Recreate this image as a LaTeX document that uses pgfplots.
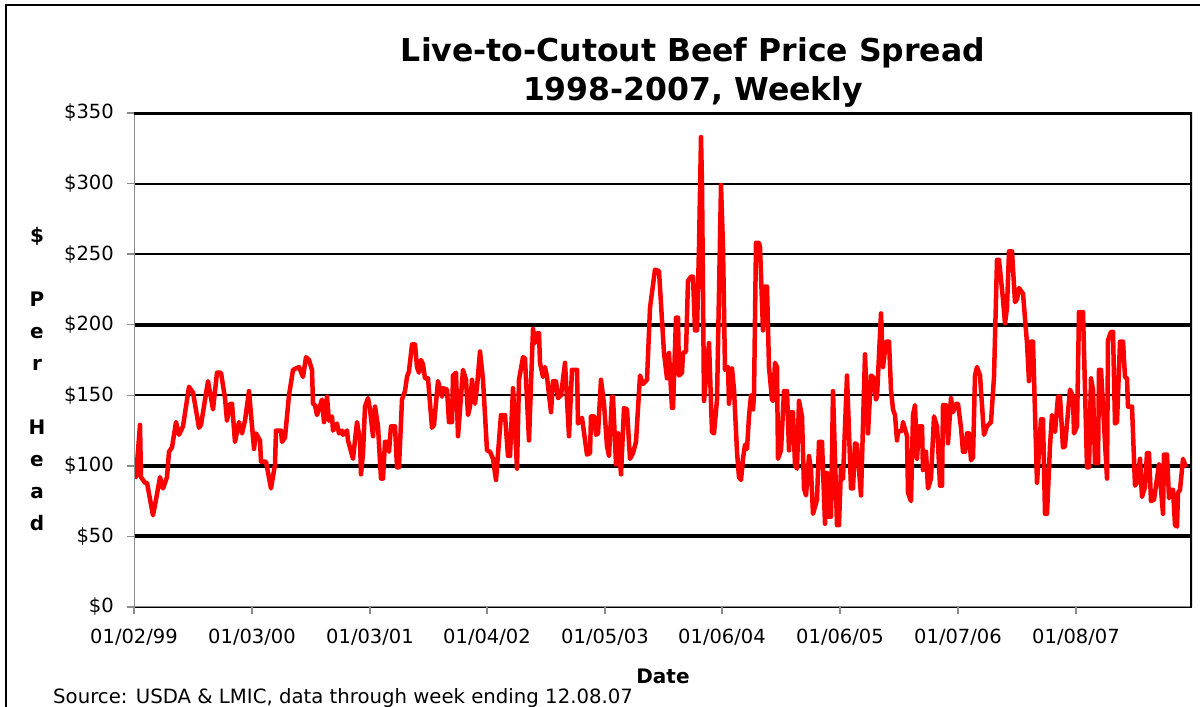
\documentclass[border=0pt]{standalone}
\usepackage{fontspec}
\setmainfont{DejaVu Sans}
\usepackage{pgfplots}
\usepackage{pgfplotstable}
\pgfplotsset{compat=1.18}
\pgfplotstableread{
x y
0 94
2 92
6 129
7 92
11 88
13 88
19 65
22 76
26 92
29 84
33 92
35 110
38 113
42 131
45 122
49 128
55 156
59 152
65 127
67 129
74 160
79 140
83 166
87 166
91 148
93 132
96 144
98 144
101 117
105 131
108 123
111 132
115 153
120 112
122 123
126 118
127 103
132 103
137 84
141 101
142 125
147 125
148 117
151 120
155 150
159 168
165 170
169 163
172 177
175 175
178 168
179 144
181 143
183 136
188 147
190 131
193 149
195 132
198 135
199 125
203 130
205 123
208 125
209 122
213 125
214 118
219 105
223 131
226 118
227 94
229 109
231 142
234 148
236 140
239 121
241 142
244 128
247 91
249 91
251 117
253 117
255 110
257 128
261 128
263 99
265 99
268 147
271 153
273 163
275 167
278 186
281 186
283 170
285 166
287 175
289 172
291 162
294 162
298 127
300 129
304 160
308 149
309 155
313 154
315 131
318 131
319 164
322 166
324 121
329 168
332 161
334 136
336 142
338 161
341 144
343 156
346 181
349 161
353 111
356 110
359 105
362 90
367 136
371 136
374 107
376 107
379 155
383 98
385 161
389 177
391 176
395 118
399 197
401 187
403 194
405 194
406 173
409 163
411 170
413 163
417 138
419 160
422 160
424 148
427 150
431 173
435 121
438 168
443 168
444 130
448 134
453 108
456 109
457 135
460 135
462 122
464 123
467 161
470 144
473 114
475 107
478 149
479 149
482 101
484 123
487 94
490 141
493 140
496 105
499 109
502 117
506 164
509 158
513 161
516 212
521 239
525 238
530 180
533 162
535 180
538 141
539 141
542 205
544 205
545 164
548 166
549 180
552 181
554 231
557 234
559 234
561 196
563 196
565 255
567 333
568 300
570 146
573 170
575 187
578 124
580 123
583 147
587 299
589 255
591 168
594 170
595 144
598 169
600 154
603 110
605 92
607 90
609 105
611 115
613 112
615 135
617 150
619 140
620 150
622 258
625 258
626 255
629 196
631 227
633 227
635 170
638 147
639 146
641 173
643 170
644 105
647 111
650 153
653 153
655 111
657 138
659 138
661 101
663 98
665 146
668 135
670 84
672 79
675 107
677 97
679 66
683 76
685 117
688 117
691 59
693 95
694 64
697 64
699 153
703 58
705 58
707 99
709 91
713 164
717 84
719 84
721 116
723 115
727 79
731 179
734 123
737 164
739 163
742 147
743 149
747 208
749 170
752 188
755 188
757 154
759 140
761 136
763 118
764 124
768 125
769 131
773 121
774 81
777 75
779 136
781 143
783 105
785 128
788 128
789 97
792 110
794 84
797 91
800 135
803 128
804 116
806 86
808 86
809 143
812 143
814 116
817 148
819 138
822 144
824 144
827 127
829 110
831 110
833 123
835 123
837 104
839 106
841 164
843 170
846 164
850 122
853 128
857 131
860 163
863 246
865 246
869 218
871 201
873 212
875 252
878 252
881 216
883 218
885 226
889 222
893 187
895 160
897 188
899 188
903 88
907 133
909 133
911 66
913 66
916 114
918 136
921 124
924 149
926 149
929 113
931 114
933 130
936 154
939 149
940 123
943 128
945 209
949 209
953 99
955 99
957 162
959 154
961 102
964 102
965 168
967 168
973 91
974 189
977 195
979 195
981 130
983 131
986 188
989 188
991 163
993 162
994 142
998 142
1001 86
1003 88
1006 105
1008 78
1011 85
1013 109
1015 109
1017 75
1020 76
1023 91
1025 101
1029 66
1030 108
1033 108
1035 77
1037 83
1039 83
1041 58
1043 57
1044 81
1046 83
1049 105
1052 99
}\spread
\begin{document}
\begin{tikzpicture}[x=1pt,y=1pt]
\useasboundingbox (0,0) rectangle (1203,707);
\fill[white] (0,0) rectangle (1203,707);
\draw[black, line width=1.5pt] (6,0) -- (6,702) -- (1200,702);
\begin{axis}[
  at={(134pt,100pt)}, anchor=south west,
  scale only axis, width=1058pt, height=494pt,
  xmin=0, xmax=1058, ymin=0, ymax=350,
  axis line style={draw=none},
  xtick={0,118,236,353,471,588,706,824,942},
  xticklabels={01/02/99,01/03/00,01/03/01,01/04/02,01/05/03,01/06/04,01/06/05,01/07/06,01/08/07},
  ytick={0,50,...,350},
  yticklabel={\$\pgfmathprintnumber{\tick}},
  /pgf/number format/assume math mode=true,
  tick align=outside, major tick length=7pt,
  tick style={gray!90, line width=1.5pt},
  xtick pos=bottom, ytick pos=left,
  ticklabel style={font=\fontsize{19.5}{19.5}\selectfont},
  yticklabel style={anchor=east, inner sep=0pt, xshift=-13pt},
  xticklabel style={anchor=north, inner sep=0pt, yshift=-15pt},
  ymajorgrids, grid style={black, line width=2pt},
  extra y ticks={50,100,200},
  extra y tick labels={},
  extra y tick style={grid style={black, line width=4pt}, major tick length=7pt},
]
\addplot[red, line width=4.5pt, line join=round] table[x=x, y=y] {\spread};
\draw[gray!90, line width=2.5pt] (rel axis cs:0,1) -- (rel axis cs:0,0) -- (rel axis cs:1,0);
\draw[black, line width=4pt] (rel axis cs:0,1) -- (rel axis cs:1,1) -- (rel axis cs:1,0);
\end{axis}
\node[font=\bfseries\fontsize{31.5}{39}\selectfont, align=center] at (693,635) {Live-to-Cutout Beef Price Spread\\1998-2007, Weekly};
\node[font=\bfseries\fontsize{20}{32.1}\selectfont, align=center] at (37,328) {\$\\\mbox{}\\P\\e\\r\\\mbox{}\\H\\e\\a\\d};
\node[font=\bfseries\fontsize{20}{24}\selectfont] at (663,31) {Date};
\node[anchor=base west, inner sep=0pt, font=\fontsize{19.7}{22}\selectfont] at (53,3) {Source: USDA \& LMIC, data through week ending 12.08.07};
\end{tikzpicture}
\end{document}
